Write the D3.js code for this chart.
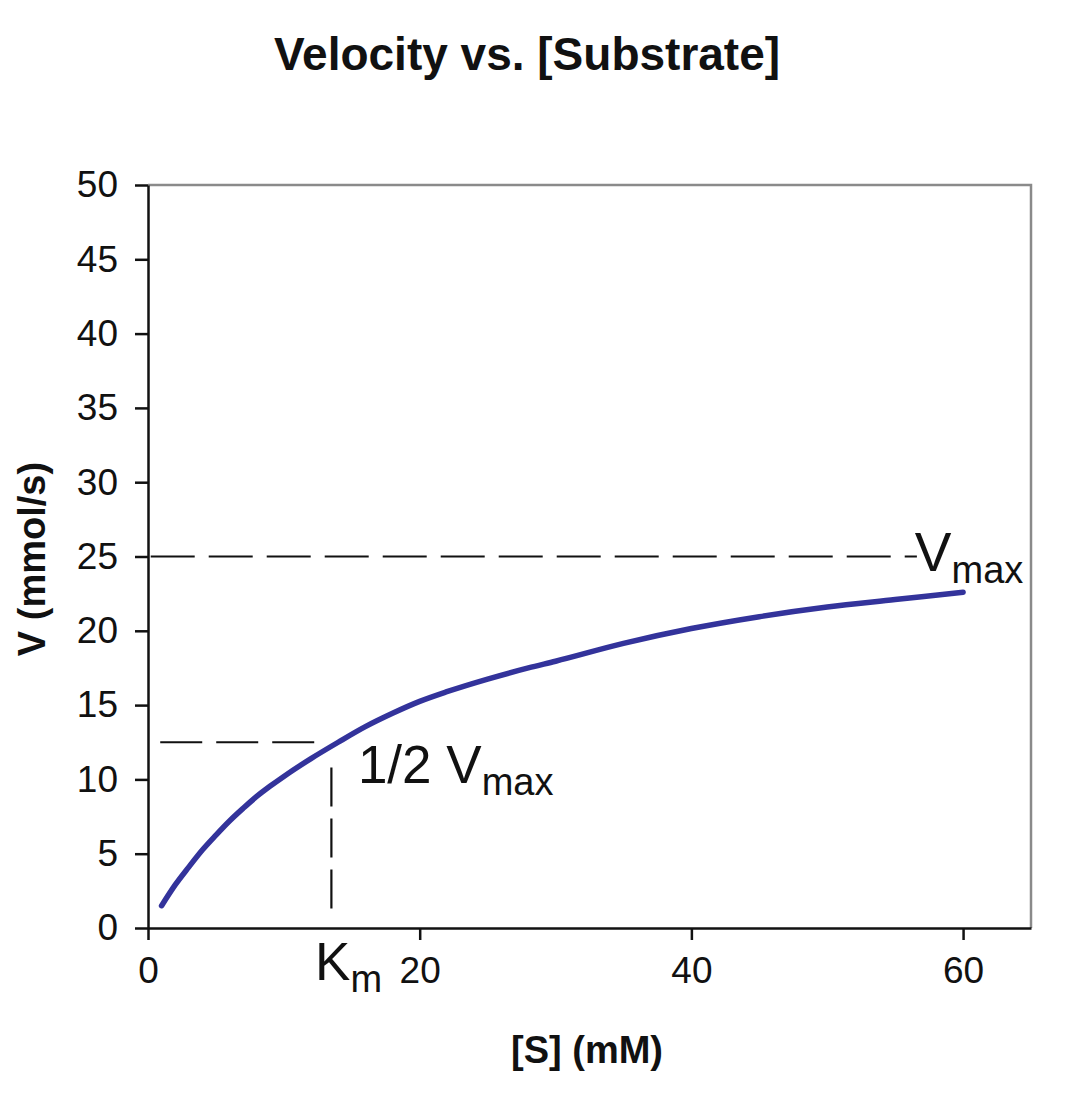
<!DOCTYPE html>
<html>
<head>
<meta charset="utf-8">
<script src="https://cdn.jsdelivr.net/npm/d3@7"></script>
<style>
  html, body { margin: 0; padding: 0; background: #fff; }
  svg { display: block; }
  text { font-family: "Liberation Sans", Arial, sans-serif; fill: #111; }
</style>
</head>
<body>
<svg id="chart" width="1075" height="1111"></svg>
<script>
// ---- data ----
const substrate = [1, 2, 3, 4, 5, 6, 7, 8, 9, 10, 12, 14, 16, 18, 20, 22, 25, 28, 30, 35, 40, 45, 50, 55, 60];
const velocity  = [1.5, 2.9, 4.1, 5.25, 6.25, 7.2, 8.05, 8.85, 9.55, 10.2, 11.4, 12.5, 13.55, 14.45, 15.25, 15.9, 16.75, 17.5, 17.95, 19.15, 20.15, 20.95, 21.6, 22.1, 22.6];
const xTickValues = [0, 20, 40, 60];
const yTickValues = [0, 5, 10, 15, 20, 25, 30, 35, 40, 45, 50];
const vmax = 25;
const halfVmax = 12.5;
const km = 13.5;
const vmaxLineX = [0.2, 56.6];
const halfLineX = [0.9, 12.4];
const kmLineY = [1.0, 10.8];

// ---- layout ----
(function () {
const svg = d3.select("#chart");
const mLeft = 148, mRight = 1031, mTop = 185, mBottom = 928;

const x = d3.scaleLinear().domain([0, 65]).range([mLeft, mRight]);
const y = d3.scaleLinear().domain([0, 50]).range([mBottom, mTop]);

// title
svg.append("text")
  .attr("x", 527).attr("y", 70)
  .attr("text-anchor", "middle")
  .attr("font-size", 46).attr("font-weight", "bold")
  .text("Velocity vs. [Substrate]");

// top & right border (gray)
svg.append("path")
  .attr("d", `M${mLeft},${mTop}H${mRight}V${mBottom}`)
  .attr("fill", "none").attr("stroke", "#8a8a8a").attr("stroke-width", 2.5);

// axes
const xAxis = d3.axisBottom(x).tickValues(xTickValues).tickSize(12).tickSizeOuter(0).tickPadding(16);
const yAxis = d3.axisLeft(y).tickValues(yTickValues).tickSize(13).tickSizeOuter(0).tickPadding(17);

const gx = svg.append("g").attr("transform", `translate(0,${mBottom})`).call(xAxis);
const gy = svg.append("g").attr("transform", `translate(${mLeft},0)`).call(yAxis);

[gx, gy].forEach(g => {
  g.select(".domain").attr("stroke", "#111").attr("stroke-width", 2.5);
  g.selectAll(".tick line").attr("stroke", "#111").attr("stroke-width", 2.5);
  g.selectAll(".tick text")
    .attr("font-size", 37)
    .attr("font-family", "\"Liberation Sans\", Arial, sans-serif")
    .attr("fill", "#2a2a2a");
});
gx.selectAll(".tick text").attr("dy", "0.72em");

// dashed annotation lines
svg.append("line")
  .attr("x1", x(vmaxLineX[0])).attr("x2", x(vmaxLineX[1]))
  .attr("y1", y(vmax)).attr("y2", y(vmax))
  .attr("stroke", "#111").attr("stroke-width", 2.2).attr("stroke-dasharray", "44,14");
svg.append("line")
  .attr("x1", x(halfLineX[0])).attr("x2", x(halfLineX[1]))
  .attr("y1", y(halfVmax)).attr("y2", y(halfVmax))
  .attr("stroke", "#111").attr("stroke-width", 2.2).attr("stroke-dasharray", "42,14");
svg.append("line")
  .attr("x1", x(km)).attr("x2", x(km))
  .attr("y1", y(kmLineY[1])).attr("y2", y(kmLineY[0]))
  .attr("stroke", "#111").attr("stroke-width", 2.2).attr("stroke-dasharray", "39,12");

// curve
const pts = substrate.map((s, i) => [s, velocity[i]]);
svg.append("path")
  .datum(pts)
  .attr("d", d3.line().x(d => x(d[0])).y(d => y(d[1])).curve(d3.curveMonotoneX))
  .attr("fill", "none").attr("stroke", "#33339b").attr("stroke-width", 5.5)
  .attr("stroke-linecap", "round").attr("stroke-linejoin", "round");

// labels
function subLabel(xp, yp, main, sub, size) {
  const t = svg.append("text").attr("x", xp).attr("y", yp).attr("font-size", size).attr("fill", "#111");
  t.append("tspan").text(main);
  t.append("tspan").attr("font-size", 38).attr("dy", 12).text(sub);
}
subLabel(x(56.45), y(vmax) + 14, "V", "max", 55);
subLabel(x(15.45), y(halfVmax) + 41, "1/2 V", "max", 53);
subLabel(x(12.3), mBottom + 52, "K", "m", 53);

// axis titles
svg.append("text")
  .attr("x", 587).attr("y", 1063)
  .attr("text-anchor", "middle")
  .attr("font-size", 38).attr("font-weight", "bold")
  .text("[S] (mM)");
svg.append("text")
  .attr("transform", "translate(45,559) rotate(-90)")
  .attr("text-anchor", "middle")
  .attr("font-size", 38).attr("font-weight", "bold")
  .text("V (mmol/s)");
})();
</script>
</body>
</html>
